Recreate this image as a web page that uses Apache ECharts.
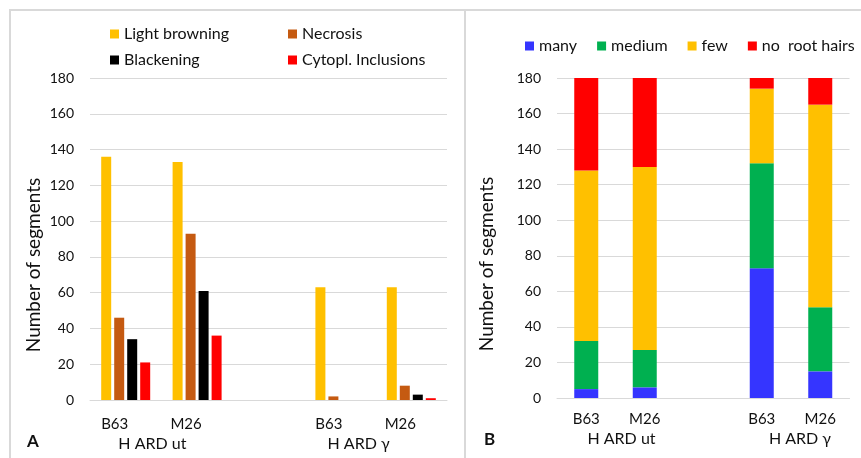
<!DOCTYPE html>
<html>
<head>
<meta charset="utf-8">
<script src="https://cdn.jsdelivr.net/npm/echarts@6/dist/echarts.min.js"></script>
<style>
  html, body { margin: 0; padding: 0; background: #fff; }
  #chart { width: 861px; height: 458px; }
</style>
</head>
<body>
<div id="chart"></div>
<script>
// Categories: two genotypes per treatment, with an empty slot between the treatment groups
const genotypes = ['B63', 'M26', '', 'B63', 'M26'];
const treatmentSlots = ['', 'H ARD ut', '', '', 'H ARD γ', ''];
const yTicks = { min: 0, max: 180, interval: 20 };

// Panel A: symptom counts per genotype
const lightBrowning = [136, 133, null, 63, 63];
const necrosis      = [46, 93, null, 2, 8];
const blackening    = [34, 61, null, 0, 3];
const cytoplIncl    = [21, 36, null, 0, 1];

// Panel B: root hair density (stacked)
const many   = [5, 6, null, 73, 15];
const medium = [27, 21, null, 59, 36];
const few    = [96, 103, null, 42, 114];
const noHair = [52, 50, null, 6, 15];

const FONT = 'Lato, "Open Sans", sans-serif';
const TXT = '#111';
const GRID = '#d9d9d9';

const chart = echarts.init(document.getElementById('chart'), null, { renderer: 'canvas' });

function yAxisCfg(gridIndex, nameGap) {
  return {
    type: 'value', gridIndex, min: yTicks.min, max: yTicks.max, interval: yTicks.interval,
    name: 'Number of segments', nameLocation: 'middle', nameGap,
    nameTextStyle: { fontFamily: FONT, fontSize: 19, color: TXT, padding: [0, 52, 0, 0] },
    axisLine: { show: false }, axisTick: { show: false },
    axisLabel: { fontFamily: FONT, fontSize: 14, color: TXT, margin: 16 },
    splitLine: { lineStyle: { color: GRID, width: 1 } }
  };
}

function genotypeAxis(gridIndex, margin, pad) {
  return {
    type: 'category', gridIndex, data: genotypes, position: 'bottom',
    axisLine: { show: true, lineStyle: { color: GRID } }, axisTick: { show: false },
    axisLabel: { fontFamily: FONT, fontSize: 15, color: TXT, margin, interval: 0, padding: pad }
  };
}

function treatmentAxis(gridIndex, offset, rich) {
  return {
    type: 'category', gridIndex, data: treatmentSlots, position: 'bottom', offset,
    boundaryGap: false,
    axisLine: { show: false }, axisTick: { show: false }, splitLine: { show: false },
    axisLabel: {
      fontFamily: FONT, fontSize: 16, color: TXT, interval: 0, margin: 16,
      formatter: v => v === 'H ARD ut' ? '{u|' + v + '}' : (v ? '{g|' + v + '}' : ''),
      rich: {
        u: Object.assign({ fontFamily: FONT, fontSize: 16, color: TXT }, rich.u),
        g: Object.assign({ fontFamily: FONT, fontSize: 16, color: TXT }, rich.g)
      }
    }
  };
}

const barA = (name, data, color) => ({
  name, type: 'bar', xAxisIndex: 0, yAxisIndex: 0, data,
  barWidth: 10, barGap: '30%', itemStyle: { color }
});
const barB = (name, data, color) => ({
  name, type: 'bar', xAxisIndex: 2, yAxisIndex: 1, data, stack: 'hairs',
  barWidth: 24, itemStyle: { color }
});

const legendText = { fontFamily: FONT, fontSize: 16, color: TXT };

chart.setOption({
  animation: false,
  backgroundColor: '#fff',
  grid: [
    { left: 90, right: 414, top: 78, bottom: 58 },
    { left: 557, right: 11.5, top: 78, bottom: 60 }
  ],
  legend: [
    { left: 105, top: 21, orient: 'vertical', itemWidth: 9, itemHeight: 9, itemGap: 10,
      icon: 'rect', textStyle: legendText, data: ['Light browning', 'Blackening'] },
    { left: 283, top: 21, orient: 'vertical', itemWidth: 9, itemHeight: 9, itemGap: 10,
      icon: 'rect', textStyle: legendText, data: ['Necrosis', 'Cytopl. Inclusions'] },
    { left: 520, top: 33, orient: 'horizontal', itemWidth: 9, itemHeight: 9, itemGap: 20,
      icon: 'rect', textStyle: legendText, data: ['many', 'medium', 'few', 'no  root hairs'] }
  ],
  xAxis: [
    genotypeAxis(0, 17, [0, 22, 0, 0]),
    treatmentAxis(0, 20, { u: { padding: [0, 18, 0, 0] }, g: { padding: [0, 34, 0, 0] } }),
    genotypeAxis(1, 14, 0),
    treatmentAxis(1, 17, { u: { padding: [0, 0, 0, 12] }, g: { padding: [0, 0, 0, 18] } })
  ],
  yAxis: [yAxisCfg(0, 47), yAxisCfg(1, 61)],
  series: [
    barA('Light browning', lightBrowning, '#FFC000'),
    barA('Necrosis', necrosis, '#C55A11'),
    barA('Blackening', blackening, '#000000'),
    barA('Cytopl. Inclusions', cytoplIncl, '#FF0000'),
    barB('many', many, '#3535FF'),
    barB('medium', medium, '#00B050'),
    barB('few', few, '#FFC000'),
    barB('no  root hairs', noHair, '#FF0000')
  ],
  graphic: [
    // panel frames
    { type: 'polyline', shape: { points: [[10, 458], [10, 10], [861, 10]] }, style: { stroke: '#d9d9d9', lineWidth: 2, fill: null } },
    { type: 'line', shape: { x1: 465, y1: 10, x2: 465, y2: 458 }, style: { stroke: '#d9d9d9', lineWidth: 2 } },
    // panel letters
    { type: 'text', left: 27, top: 433, style: { text: 'A', font: 'bold 17px ' + FONT, fill: TXT } },
    { type: 'text', left: 484, top: 431, style: { text: 'B', font: 'bold 17px ' + FONT, fill: TXT } }
  ]
});
</script>
</body>
</html>
